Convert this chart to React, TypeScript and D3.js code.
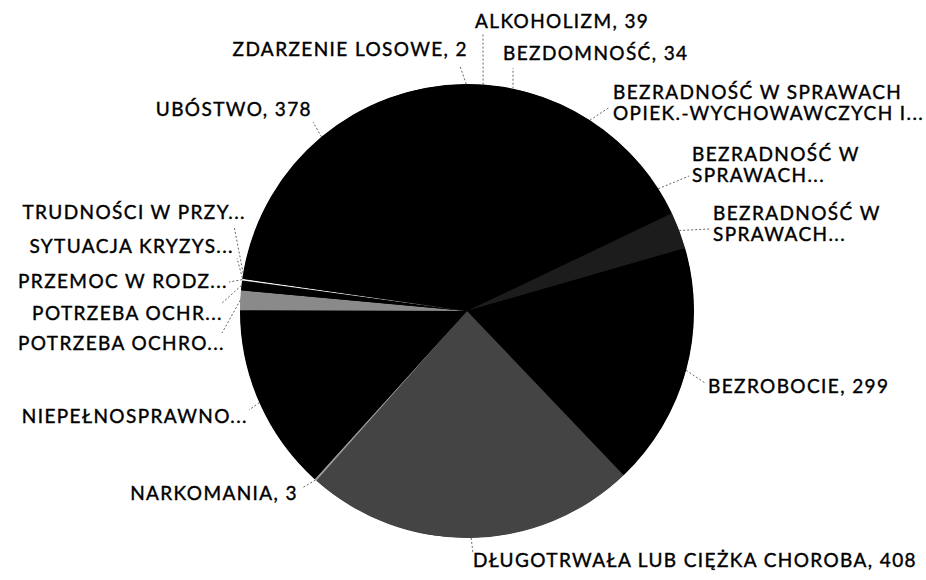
import React from 'react'
import * as d3 from 'd3'

// slice values, alphabetical order, clockwise from 12 o'clock
const categories = [
  'ALKOHOLIZM',
  'BEZDOMNOŚĆ',
  'BEZRADNOŚĆ W SPRAWACH OPIEK.-WYCHOWAWCZYCH I PROWADZENIA GOSPODARSTWA DOMOWEGO',
  'BEZRADNOŚĆ W SPRAWACH OPIEK.-WYCH. - RODZINA NIEPEŁNA',
  'BEZRADNOŚĆ W SPRAWACH OPIEK.-WYCH. - RODZINA WIELODZIETNA',
  'BEZROBOCIE',
  'DŁUGOTRWAŁA LUB CIĘŻKA CHOROBA',
  'NARKOMANIA',
  'NIEPEŁNOSPRAWNOŚĆ',
  'POTRZEBA OCHRONY MACIERZYŃSTWA',
  'POTRZEBA OCHRONY MACIERZYŃSTWA - WIELODZIETNOŚĆ',
  'PRZEMOC W RODZINIE',
  'SYTUACJA KRYZYSOWA',
  'TRUDNOŚCI W PRZYSTOSOWANIU DO ŻYCIA PO ZWOLNIENIU Z ZAKŁADU KARNEGO',
  'UBÓSTWO',
  'ZDARZENIE LOSOWE',
]
const values = [39, 34, 168, 68, 45, 299, 408, 3, 230, 24, 12, 2, 2, 10, 378, 2]

// text shown next to each slice
const labelLines = [
  ['ALKOHOLIZM, 39'],
  ['BEZDOMNOŚĆ, 34'],
  ['BEZRADNOŚĆ W SPRAWACH', 'OPIEK.-WYCHOWAWCZYCH I...'],
  ['BEZRADNOŚĆ W', 'SPRAWACH...'],
  ['BEZRADNOŚĆ W', 'SPRAWACH...'],
  ['BEZROBOCIE, 299'],
  ['DŁUGOTRWAŁA LUB CIĘŻKA CHOROBA, 408'],
  ['NARKOMANIA, 3'],
  ['NIEPEŁNOSPRAWNO...'],
  ['POTRZEBA OCHRO...'],
  ['POTRZEBA OCHR...'],
  ['PRZEMOC W RODZ...'],
  ['SYTUACJA KRYZYS...'],
  ['TRUDNOŚCI W PRZY...'],
  ['UBÓSTWO, 378'],
  ['ZDARZENIE LOSOWE, 2'],
]

// grey levels left after the scan (mostly black)
const fills = [
  '#000', '#000', '#000', '#000', '#1c1c1c', '#000', '#444', '#999',
  '#000', '#8a8a8a', '#000', '#f2f2f2', '#000', '#000', '#000', '#000',
]

// label layout: text x, first baseline y, anchor, end of leader line
const labelLayout = [
  { x: 475, y: 28, a: 'start', lx: 483, ly: 34 },
  { x: 503, y: 60, a: 'start', lx: 513, ly: 68 },
  { x: 613, y: 99, a: 'start', lx: 610, ly: 107 },
  { x: 692, y: 161, a: 'start', lx: 689, ly: 176 },
  { x: 713, y: 220, a: 'start', lx: 710, ly: 229 },
  { x: 708, y: 393, a: 'start', lx: 705, ly: 383 },
  { x: 473, y: 567, a: 'start', lx: 473, ly: 553 },
  { x: 298, y: 500, a: 'end', lx: 302, ly: 488 },
  { x: 248, y: 423, a: 'end', lx: 249, ly: 410 },
  { x: 225, y: 350, a: 'end', lx: 222, ly: 333 },
  { x: 223, y: 320, a: 'end', lx: 221, ly: 304 },
  { x: 228, y: 288, a: 'end', lx: 229, ly: 282 },
  { x: 234, y: 253, a: 'end', lx: 237, ly: 258 },
  { x: 246, y: 219, a: 'end', lx: 234, ly: 226 },
  { x: 312, y: 116, a: 'end', lx: 313, ly: 122 },
  { x: 468, y: 56, a: 'end', lx: 460, ly: 66 },
]

const W = 926
const H = 580
const cx = 467
const cy = 311
const R = 227
const lineGap = 21

export default function App() {
  const pie = d3.pie<number>().sort(null).value(d => d)
  const arcs = pie(values)
  const arc = d3.arc<d3.PieArcDatum<number>>().innerRadius(0).outerRadius(R)
  const edge = d3.arc<d3.PieArcDatum<number>>().innerRadius(R).outerRadius(R)

  return (
    <svg width={W} height={H} style={{ position: 'absolute', left: 0, top: 0, background: '#fff' }}>
      <g transform={`translate(${cx},${cy})`}>
        {/* black disc under the slices hides anti-aliasing seams */}
        <circle r={R - 0.5} fill="#000" />
        {arcs.map((a, i) => (
          <path key={categories[i]} d={arc(a) || ''} fill={fills[i]} />
        ))}
      </g>
      <g>
        {arcs.map((a, i) => {
          const [px, py] = edge.centroid(a)
          const l = labelLayout[i]
          return (
            <line
              key={'l' + i}
              x1={cx + px}
              y1={cy + py}
              x2={l.lx}
              y2={l.ly}
              stroke="#666"
              strokeWidth={1}
              strokeDasharray="2 2"
            />
          )
        })}
      </g>
      <g
        style={{ fontFamily: 'Lato, sans-serif', fontSize: 19, letterSpacing: 1.4 }}
        fill="#000"
        stroke="#000"
        strokeWidth={0.4}
      >
        {labelLines.map((lines, i) => {
          const l = labelLayout[i]
          return (
            <text key={'t' + i} x={l.x} y={l.y} textAnchor={l.a}>
              {lines.map((s, j) => (
                <tspan key={j} x={l.x} y={l.y + j * lineGap}>{s}</tspan>
              ))}
            </text>
          )
        })}
      </g>
    </svg>
  )
}
